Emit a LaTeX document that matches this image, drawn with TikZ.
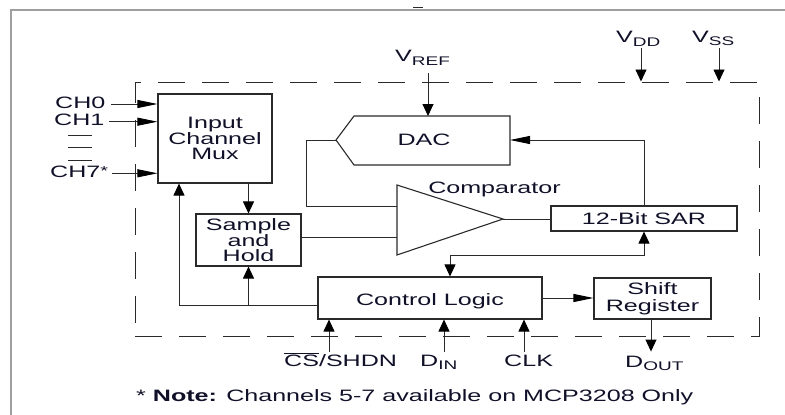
\documentclass[tikz,border=0pt]{standalone}
\usepackage{fontspec}
\setmainfont{Liberation Sans}[FakeStretch=1.52]
\usetikzlibrary{arrows.meta,calc}
\definecolor{txt}{HTML}{101028}
\definecolor{ln}{HTML}{2A2A2A}
\newcommand{\lblfont}{\fontsize{16.5}{15}\selectfont}
\newcommand{\subtxt}[2][3pt]{\raisebox{-#1}{\fontsize{12.5}{12}\selectfont #2}}
\begin{document}
\begin{tikzpicture}[x=1pt,y=-1pt,
  box/.style={draw=ln, line width=1.1pt, inner sep=0pt, font=\lblfont, text=txt, align=center},
  lbl/.style={font=\lblfont, text=txt, inner sep=0pt},
  conn/.style={draw=ln, line width=0.9pt},
  shapeline/.style={draw=ln, line width=1.1pt},
  harr/.style={conn, -{Triangle[length=20pt,width=8pt,color=black]}},
  varr/.style={conn, -{Triangle[length=12pt,width=11pt,color=black]}},
  darr/.style={conn, {Triangle[length=12pt,width=11pt,color=black]}-{Triangle[length=12pt,width=11pt,color=black]}},
  chipbox/.style={draw=ln, line width=1pt, dash pattern=on 27pt off 17pt, inner sep=0pt},
]
\useasboundingbox (0,0) rectangle (785,415);
% outer frame
\draw[gray!75, line width=1.3pt] (11,415) -- (11,10) -- (785,10);
\draw[ln, line width=1pt] (413,7.3) -- (423,7.3);

% chip outline
\node[chipbox, minimum width=624pt, minimum height=254pt] (chip) at (447,209) {};

% blocks
\node[box, minimum width=114pt, minimum height=89pt] (mux) at (215,138.5) {Input\\Channel\\Mux};
\node[box, minimum width=105pt, minimum height=52pt] (sah) at (248.5,240) {Sample\\and\\Hold};
\node[box, minimum width=224pt, minimum height=42pt, text height=15.4pt, text depth=0pt] (ctl) at (430,298) {Control Logic};
\node[box, minimum width=186pt, minimum height=25pt, text height=11pt, text depth=0pt] (sar) at (644,218.5) {12-Bit SAR};
\node[box, minimum width=117pt, minimum height=41pt, font=\fontsize{16.5}{16.7}\selectfont] (sr) at (652.5,298.5) {Shift\\Register};

% DAC
\coordinate (dacP) at (336,140);
\coordinate (dacTL) at (354,116);
\coordinate (dacTR) at (510,116);
\coordinate (dacBR) at (510,165);
\coordinate (dacBL) at (354,165);
\coordinate (dacR) at (510,140);
\coordinate (dacT) at (428,116);
\draw[shapeline] (dacP) -- (dacTL) -- (dacTR) -- (dacBR) -- (dacBL) -- cycle;
\node[lbl] (dac) at (424,139.5) {DAC};

% comparator
\coordinate (cmpT) at (397,185);
\coordinate (cmpB) at (397,255);
\coordinate (cmpO) at (503,219);
\coordinate (cmpI1) at (397,206);
\coordinate (cmpI2) at (397,237);
\draw[shapeline] (cmpT) -- (cmpO) -- (cmpB) -- cycle;
\node[lbl, anchor=base] (cmpl) at (494.5,193) {Comparator};

% connectors inside
\draw[varr] (mux.south -| sah.north) -- (sah.north);
\coordinate (fb) at ([yshift=-7pt]ctl.west);
\draw[varr] (fb) -| ([xshift=-36pt]mux.south);
\draw[varr] (fb -| sah.south) -- (sah.south);
\draw[conn] (sah.east |- cmpI2) -- (cmpI2);
\draw[conn] (dacP) -- ++(-30,0) |- (cmpI1);
\draw[conn] (cmpO) -- (cmpO -| sar.west);
\draw[harr] (sar.north) |- (dacR);
\draw[darr] (sar.south) -- ++(0,24) -| ([xshift=20pt]ctl.north);
\draw[harr] (ctl.east) -- (ctl.east -| sr.west);
\draw[varr] ([xshift=-1.5pt]sr.south) -- ++(0,32);

% inputs to control logic
\draw[varr] ([xshift=-101pt]ctl.south) ++(0,32) -- ([xshift=-101pt]ctl.south);
\draw[varr] ([xshift=14pt]ctl.south) ++(0,32) -- ([xshift=14pt]ctl.south);
\draw[varr] ([xshift=94pt]ctl.south) ++(0,32) -- ([xshift=94pt]ctl.south);

% supply / reference
\draw[varr] (dacT) ++(0,-43) -- (dacT);
\draw[varr] ([xshift=194pt]chip.north) ++(0,-34) -- ([xshift=194pt]chip.north);
\draw[varr] ([xshift=272pt]chip.north) ++(0,-34) -- ([xshift=272pt]chip.north);

% channel inputs
\draw[harr] ([yshift=34.5pt]mux.west) ++(-46,0) -- ([yshift=34.5pt]mux.west);
\draw[harr] ([yshift=16.8pt]mux.west) ++(-48,0) -- ([yshift=16.8pt]mux.west);
\draw[harr] ([yshift=-34.8pt]mux.west) ++(-45,0) -- ([yshift=-34.8pt]mux.west);
\draw[conn] (68,135) -- (92,135);
\draw[conn] (68,147.3) -- (92,147.3);
\draw[conn] (68,160) -- (92,160);

% labels
\node[lbl, anchor=base west] (ch0) at (55,108.3) {CH0};
\node[lbl, anchor=base west] (ch1) at (54,125) {CH1};
\node[lbl, anchor=base west] (ch7) at (50,177.3) {CH7\raisebox{1.5pt}{\fontsize{13}{13}\selectfont *}};
\node[lbl, anchor=base west] (vref) at (395,61) {V\subtxt[4pt]{REF}};
\node[lbl, anchor=base west] (vdd) at (616,42.7) {V\subtxt[4pt]{DD}};
\node[lbl, anchor=base west] (vss) at (692,42.7) {V\subtxt[3pt]{SS}};
\node[lbl, anchor=base west] (cs) at (284,366) {$\overline{\hbox{\lblfont CS}}$/SHDN};
\node[lbl, anchor=base west] (din) at (420,366.7) {D\subtxt[2.5pt]{IN}};
\node[lbl, anchor=base west] (clk) at (504,366) {CLK};
\node[lbl, anchor=base west] (dout) at (625,367.7) {D\subtxt[2.5pt]{OUT}};
\node[lbl, anchor=base west] (note) at (136,401.7) {* \textbf{Note:} Channels 5-7 available on MCP3208 Only};
\end{tikzpicture}
\end{document}
